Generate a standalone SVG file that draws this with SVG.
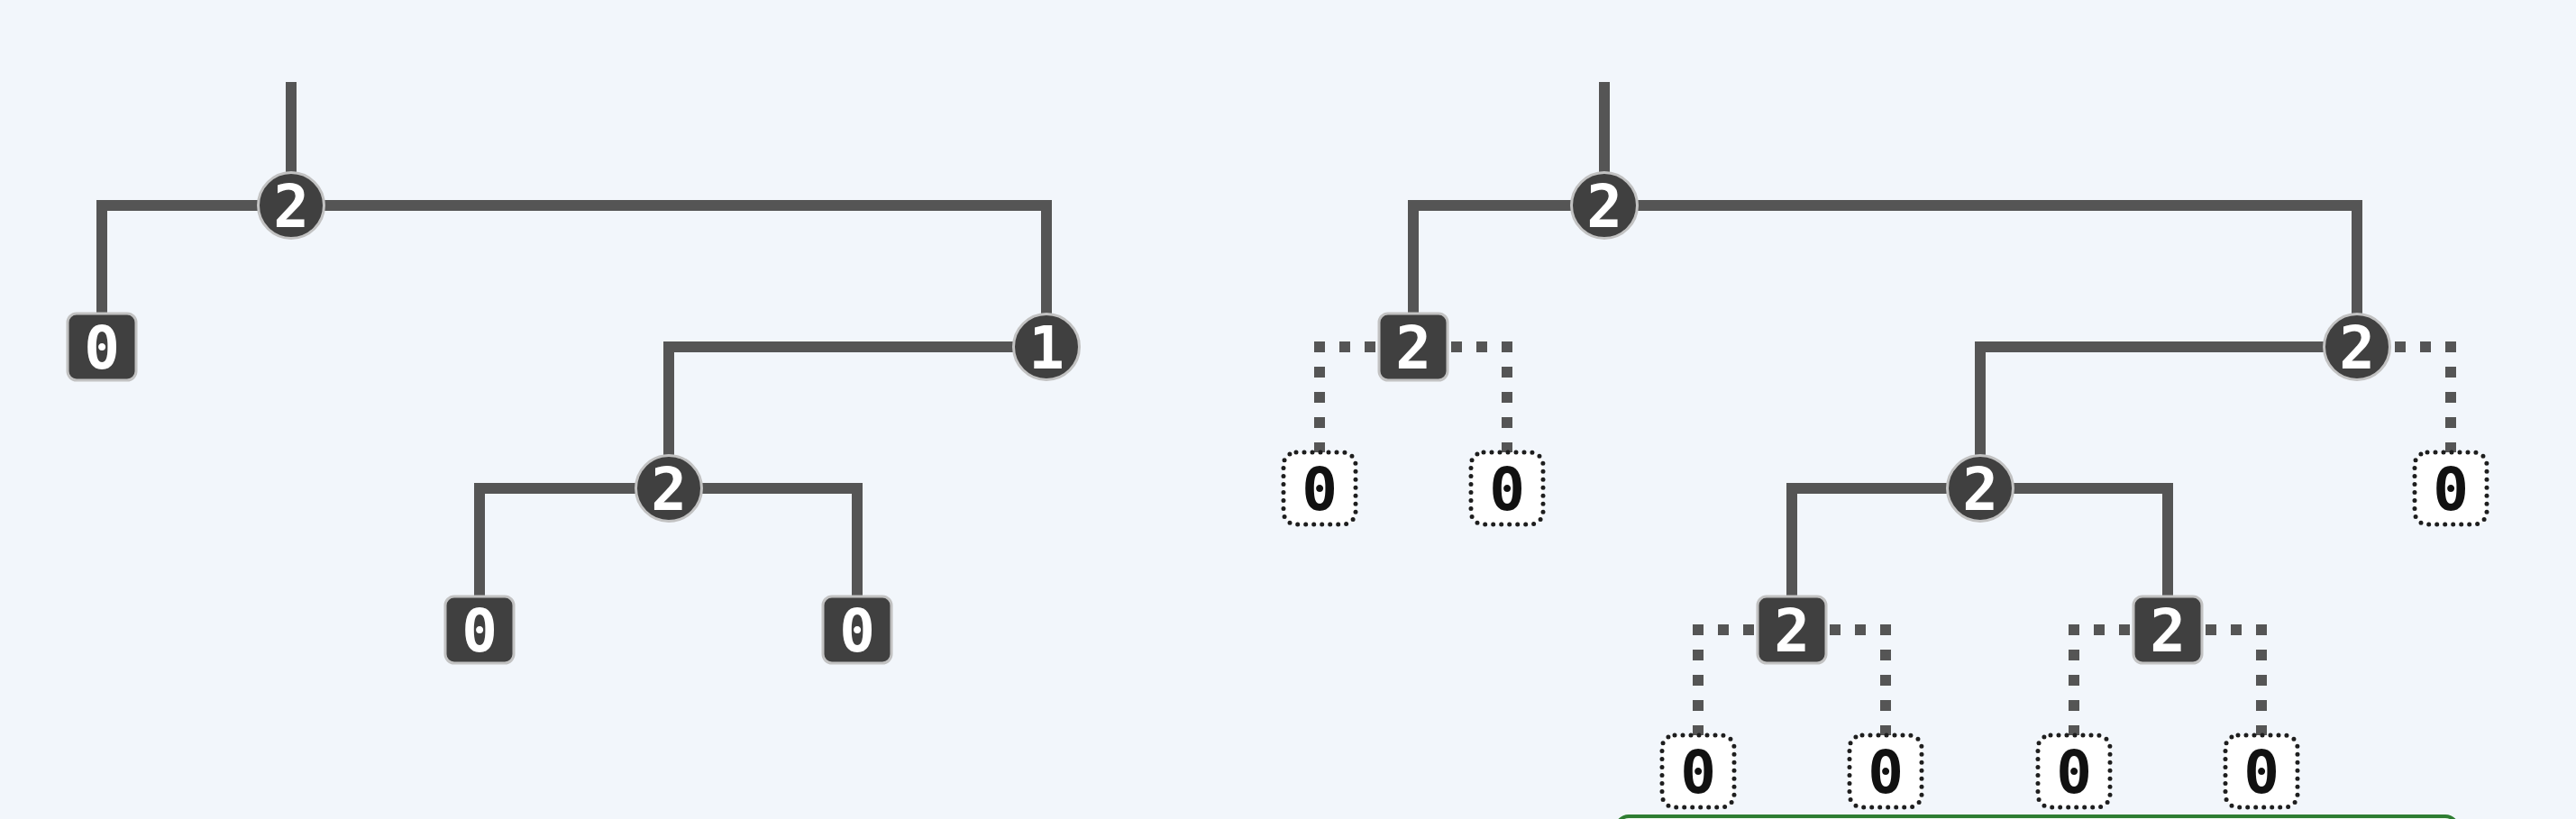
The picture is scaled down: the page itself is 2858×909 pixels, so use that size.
<svg xmlns="http://www.w3.org/2000/svg" width="2858" height="909" viewBox="0 0 2858 909">
<style>
.bg{fill:#f2f6fb}
.edge{fill:none;stroke:#555555;stroke-width:12;stroke-linejoin:miter}
.dot{fill:none;stroke:#555555;stroke-width:12;stroke-dasharray:12 16;stroke-dashoffset:14}
.circ{fill:#404040;stroke:#c2c2c2;stroke-width:3}
.sq{fill:#404040;stroke:#c2c2c2;stroke-width:3}
.leaf{fill:#ffffff;stroke:#1e1e1e;stroke-width:5;stroke-dasharray:0 9;stroke-linecap:round}
.lbl{font-family:"DejaVu Sans Mono","Liberation Mono",monospace;font-size:66px;font-weight:bold;text-anchor:middle;fill:#ffffff}
.lblk{font-family:"DejaVu Sans Mono","Liberation Mono",monospace;font-size:66px;font-weight:bold;text-anchor:middle;fill:#111111}
.panel{fill:#eef7ee;stroke:#2e7d32;stroke-width:4}
</style>
<rect class="bg" x="0" y="0" width="2858" height="909"/>
<rect class="panel" x="1793" y="906" width="934" height="60" rx="14"/>

<g id="connectors">
  <!-- left tree -->
  <path class="edge" d="M323,91 V228"/>
  <path class="edge" d="M113,385 V228 H1161 V385"/>
  <path class="edge" d="M742,542 V385 H1161"/>
  <path class="edge" d="M532,699 V542 H951 V699"/>
  <!-- right tree -->
  <path class="edge" d="M1780,91 V228"/>
  <path class="edge" d="M1568,385 V228 H2615 V385"/>
  <path class="edge" d="M2197,542 V385 H2615"/>
  <path class="edge" d="M1988,699 V542 H2405 V699"/>
  <path class="dot" d="M1568,385 H1464 V542"/>
  <path class="dot" d="M1568,385 H1672 V542"/>
  <path class="dot" d="M2615,385 H2719 V542"/>
  <path class="dot" d="M1988,699 H1884 V856"/>
  <path class="dot" d="M1988,699 H2092 V856"/>
  <path class="dot" d="M2405,699 H2301 V856"/>
  <path class="dot" d="M2405,699 H2509 V856"/>
</g>

<!-- left tree nodes -->
<g id="L-root"><circle class="circ" cx="323" cy="228" r="36.5"/><text class="lbl" x="323" y="252">2</text></g>
<g id="L-a"><rect class="sq" x="75" y="348" width="76" height="74" rx="10"/><text class="lbl" x="113" y="409">0</text></g>
<g id="L-b"><circle class="circ" cx="1161" cy="385" r="36.5"/><text class="lbl" x="1161" y="409">1</text></g>
<g id="L-c"><circle class="circ" cx="742" cy="542" r="36.5"/><text class="lbl" x="742" y="566">2</text></g>
<g id="L-d"><rect class="sq" x="494" y="662" width="76" height="74" rx="10"/><text class="lbl" x="532" y="723">0</text></g>
<g id="L-e"><rect class="sq" x="913" y="662" width="76" height="74" rx="10"/><text class="lbl" x="951" y="723">0</text></g>

<!-- right tree nodes -->
<g id="R-root"><circle class="circ" cx="1780" cy="228" r="36.5"/><text class="lbl" x="1780" y="252">2</text></g>
<g id="R-a"><rect class="sq" x="1530" y="348" width="76" height="74" rx="10"/><text class="lbl" x="1568" y="409">2</text></g>
<g id="R-a1"><rect class="leaf" x="1424" y="502" width="80" height="80" rx="14"/><text class="lblk" x="1464" y="566">0</text></g>
<g id="R-a2"><rect class="leaf" x="1632" y="502" width="80" height="80" rx="14"/><text class="lblk" x="1672" y="566">0</text></g>
<g id="R-b"><circle class="circ" cx="2615" cy="385" r="36.5"/><text class="lbl" x="2615" y="409">2</text></g>
<g id="R-b2"><rect class="leaf" x="2679" y="502" width="80" height="80" rx="14"/><text class="lblk" x="2719" y="566">0</text></g>
<g id="R-c"><circle class="circ" cx="2197" cy="542" r="36.5"/><text class="lbl" x="2197" y="566">2</text></g>
<g id="R-d"><rect class="sq" x="1950" y="662" width="76" height="74" rx="10"/><text class="lbl" x="1988" y="723">2</text></g>
<g id="R-e"><rect class="sq" x="2367" y="662" width="76" height="74" rx="10"/><text class="lbl" x="2405" y="723">2</text></g>
<g id="R-d1"><rect class="leaf" x="1844" y="816" width="80" height="80" rx="14"/><text class="lblk" x="1884" y="880">0</text></g>
<g id="R-d2"><rect class="leaf" x="2052" y="816" width="80" height="80" rx="14"/><text class="lblk" x="2092" y="880">0</text></g>
<g id="R-e1"><rect class="leaf" x="2261" y="816" width="80" height="80" rx="14"/><text class="lblk" x="2301" y="880">0</text></g>
<g id="R-e2"><rect class="leaf" x="2469" y="816" width="80" height="80" rx="14"/><text class="lblk" x="2509" y="880">0</text></g>
</svg>
